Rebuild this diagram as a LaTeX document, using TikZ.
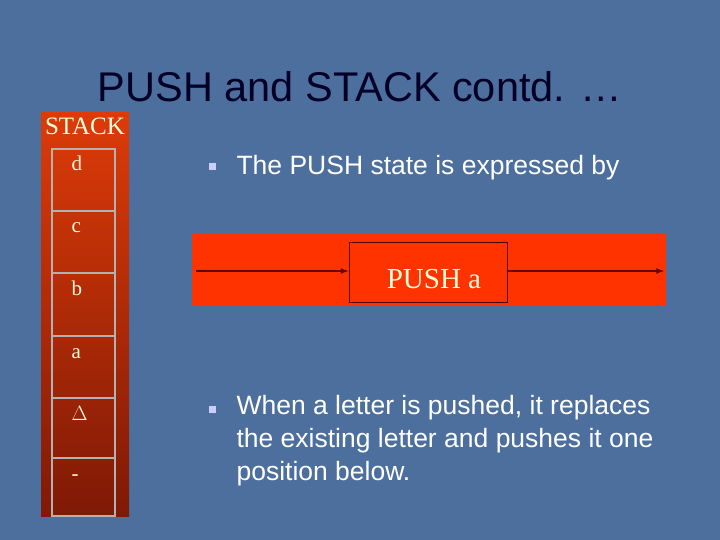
\documentclass[tikz,border=0pt]{standalone}
\usepackage{fontspec}
\setmainfont{Liberation Serif}
\newfontfamily\sansf{Liberation Sans}
\begin{document}
\begin{tikzpicture}[x=1pt,y=-1pt,
  cell/.style={draw=gray!60!white,line width=1.2pt},
  lbl/.style={text=yellow!15!white,font=\fontsize{21}{21}\selectfont,anchor=base west},
  body/.style={text=white,font=\sansf\fontsize{26.5}{33}\selectfont,anchor=base west,align=left},
  bullet/.style={fill=white!80!blue,minimum size=7pt,inner sep=0pt}]
\definecolor{bg}{HTML}{4D6F9E}
\definecolor{stk}{HTML}{D42A0A}
\definecolor{pband}{HTML}{FF3300}
\fill[bg] (0,0) rectangle (720,540);
\useasboundingbox (0,0) rectangle (720,540);
\node[text=black!85!blue,font=\sansf\fontsize{41.5}{41.5}\selectfont,anchor=base] (title) at (360,102) {PUSH and STACK contd. …};
% stack
\shade[top color=stk!80!orange, bottom color=stk!60!black] (41,113) rectangle (129,516);
\node[lbl,font=\fontsize{25}{25}\selectfont,anchor=base] (stk) at (85,135) {STACK};
\foreach \t/\b/\l [count=\i] in {149/211/d,211/273/c,273/336/b,336/398/a,398/458/$\Delta$,458/516/-}{
  \draw[cell] (52,\t) rectangle (115,\b);
  \node[lbl] (c\i) at (68,\t+22) {\l};
}
% push
\fill[pband] (192,234) rectangle (666,306);
\node[draw=black!70!red,line width=1pt,minimum width=158pt,minimum height=60pt,inner sep=0pt] (box) at (428,272) {};
\node[text=yellow!15!white,font=\fontsize{29}{29}\selectfont] (pt) at (434,279) {PUSH a};
\coordinate (in) at (196,271);
\coordinate (out) at (664,271);
\draw[black!60!red,line width=1.6pt,-latex] (in) -- (in -| box.west);
\draw[black!60!red,line width=1.6pt,-latex] (box.east |- out) -- (out);
% bullets
\node[bullet] (b1) at (212,167) {};
\node[body] (t1) at (233,175) {The PUSH state is expressed by};
\node[bullet] (b2) at (212,409) {};
\node[body,anchor=north west] (t2) at (233,392) {When a letter is pushed, it replaces\\the existing letter and pushes it one\\position below.};
\end{tikzpicture}
\end{document}
